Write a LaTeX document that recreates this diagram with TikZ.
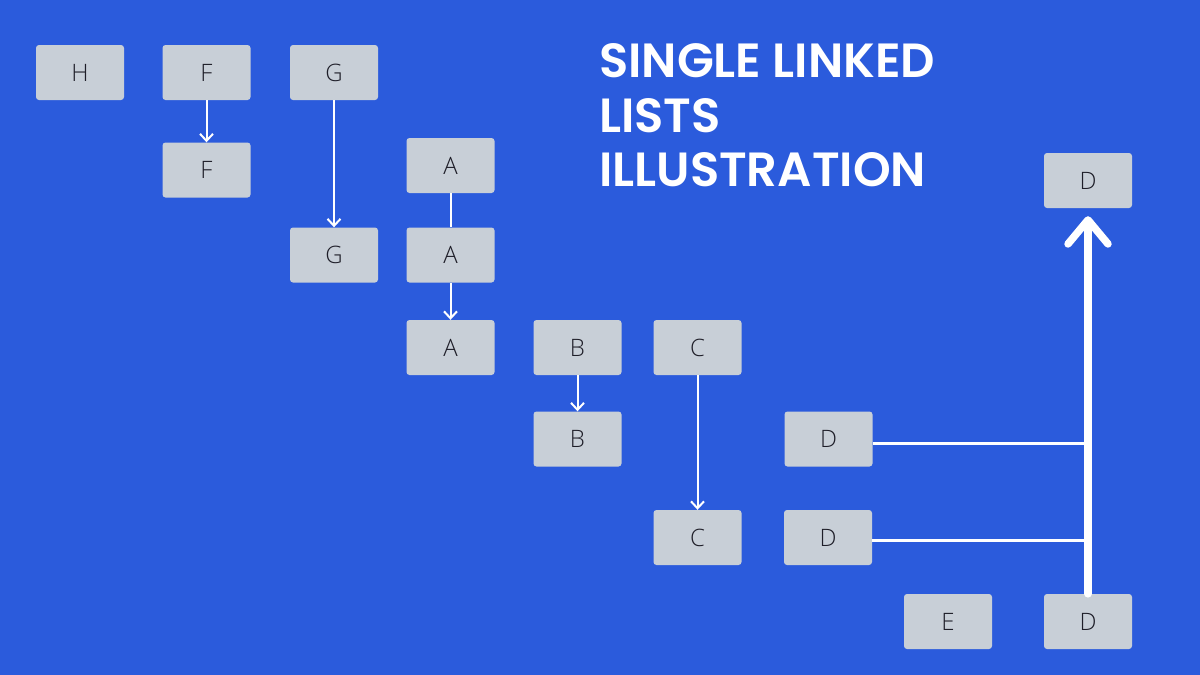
\documentclass[tikz,border=0pt]{standalone}
\usepackage{fontspec}
\setmainfont{Open Sans Light}
\newfontfamily\titlefont{Poppins SemiBold}
\usetikzlibrary{arrows.meta}
\definecolor{bgblue}{RGB}{43,91,220}
\definecolor{boxgray}{RGB}{200,207,215}
\definecolor{labelink}{RGB}{30,30,40}
\begin{document}
\begin{tikzpicture}[x=1pt,y=-1pt,
  listbox/.style={fill=boxgray,rounded corners=3pt,minimum width=88pt,minimum height=55pt,inner sep=0pt,
    font=\fontsize{24}{27}\selectfont,text=labelink,text height=17pt,text depth=0pt},
  thinarrow/.style={draw=white,line width=2pt,-{Straight Barb[length=7pt,width=13pt]}},
  thinline/.style={draw=white,line width=2pt},
  hline/.style={draw=white,line width=3pt},
  bigarrow/.style={draw=white,line width=7.5pt,line cap=round,-{Straight Barb[length=24pt,width=40pt,round]}},
  titletext/.style={anchor=base west,inner sep=0pt,text=white,font=\titlefont\fontsize{48}{54}\selectfont}
]
\useasboundingbox[fill=bgblue] (0,0) rectangle (1200,675);
% boxes
\node[listbox] (H)  at (80,72.5)   {H};
\node[listbox] (F1) at (206.5,72.5) {F};
\node[listbox] (G1) at (334,72.5)  {G};
\node[listbox] (F2) at (206.5,170) {F};
\node[listbox] (A1) at (450.5,165.5) {A};
\node[listbox] (G2) at (334,255)   {G};
\node[listbox] (A2) at (450.5,255) {A};
\node[listbox] (A3) at (450.5,347.5) {A};
\node[listbox] (B1) at (577.5,347.5) {B};
\node[listbox] (C1) at (697.5,347.5) {C};
\node[listbox] (B2) at (577.5,439) {B};
\node[listbox] (D1) at (828.5,439) {D};
\node[listbox] (C2) at (697.5,537.5) {C};
\node[listbox] (D2) at (828,537.5) {D};
\node[listbox] (E)  at (948,621.5) {E};
\node[listbox] (D3) at (1088,621.5) {D};
\node[listbox] (D4) at (1088,180.5) {D};
% title
\node[titletext] (t1) at (599,77)  {SINGLE LINKED};
\node[titletext] (t2) at (599,132) {LISTS};
\node[titletext] (t3) at (599,186) {ILLUSTRATION};
% connectors
\draw[thinarrow] (F1.south) -- (F2.north);
\draw[thinarrow] (G1.south) -- (G2.north);
\draw[thinline]  (A1.south) -- (A2.north);
\draw[thinarrow] (A2.south) -- (A3.north);
\draw[thinarrow] (B1.south) -- (B2.north);
\draw[thinarrow] (C1.south) -- (C2.north);
\draw[hline] ([yshift=-4.5pt]D1.east) -- ([yshift=-4.5pt]D1.east -| D4.south);
\draw[hline] ([yshift=-2.5pt]D2.east) -- ([yshift=-2.5pt]D2.east -| D4.south);
\draw[bigarrow] (D3.north) -- ([yshift=-8pt]D4.south);
\end{tikzpicture}
\end{document}
